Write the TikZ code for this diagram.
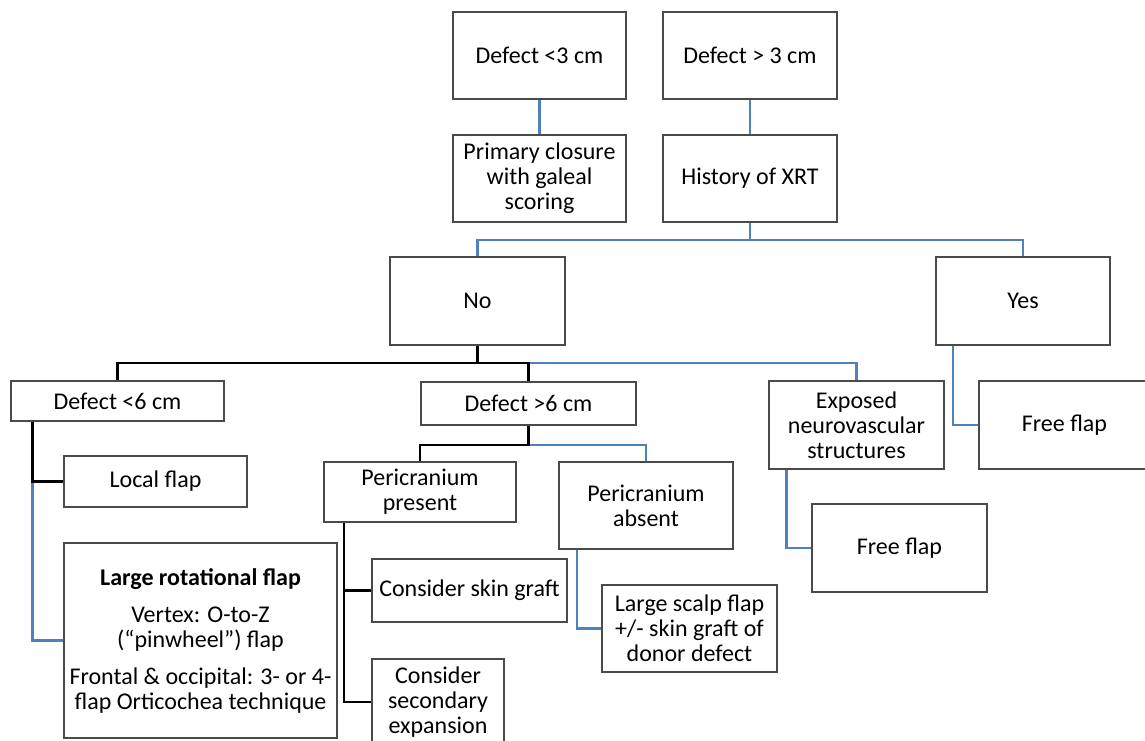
\documentclass[tikz,border=0pt]{standalone}
\usepackage{fontspec}
\setmainfont{Carlito}
\definecolor{lineblue}{HTML}{4F81BD}
\definecolor{boxgray}{HTML}{4A4A4A}
\tikzset{
  box/.style={draw=boxgray,line width=2pt,fill=white,align=center,inner sep=1pt,
    font=\fontsize{24}{25}\selectfont},
  bl/.style={draw=lineblue,line width=2.4pt},
  bk/.style={draw=black,line width=2.6pt}}

\begin{document}
\begin{tikzpicture}[x=1pt,y=-1pt]
    \useasboundingbox (0,0) rectangle (1145,740);

    \node[box,minimum width=173pt,minimum height=87pt] (d3) at (539.5,55.5) {Defect <3 cm};
    \node[box,minimum width=174pt,minimum height=87pt] (d3b) at (750,55.5) {Defect > 3 cm};
    \node[box,minimum width=173pt,minimum height=87pt] (prim) at (539.5,178.5) {Primary closure\\with galeal\\scoring};
    \node[box,minimum width=174pt,minimum height=87pt] (hist) at (750,178.5) {History of XRT};
    \node[box,minimum width=175pt,minimum height=88pt] (no) at (477.5,301) {No};
    \node[box,minimum width=174pt,minimum height=88pt] (yes) at (1023,301) {Yes};
    \node[box,minimum width=213pt,minimum height=40pt] (d6a) at (117.5,401) {Defect <6 cm};
    \node[box,minimum width=215pt,minimum height=43pt] (d6b) at (528.5,403.5) {Defect >6 cm};
    \node[box,minimum width=175pt,minimum height=88pt] (expo) at (856.5,425) {Exposed\\neurovascular\\structures};
    \node[box,minimum width=171pt,minimum height=88pt] (free1) at (1064.5,425) {Free flap};
    \node[box,minimum width=183pt,minimum height=51pt] (local) at (155.5,481.5) {Local flap};
    \node[box,minimum width=192pt,minimum height=60pt] (peri1) at (420,492) {Pericranium\\present};
    \node[box,minimum width=174pt,minimum height=87pt] (peri2) at (646,505.5) {Pericranium\\absent};
    \node[box,minimum width=175pt,minimum height=88pt] (free2) at (899.5,548) {Free flap};
    \node[box,minimum width=273pt,minimum height=195pt] (large) at (200.5,640.5)
      {\textbf{Large rotational flap}\\[12pt] Vertex: O-to-Z\\(“pinwheel”) flap\\[12pt]
       Frontal \& occipital: 3- or 4-\\flap Orticochea technique};
    \node[box,minimum width=195pt,minimum height=63pt] (skin) at (469.5,590.5) {Consider skin graft};
    \node[box,minimum width=175pt,minimum height=87pt] (scalp) at (689.5,628.5) {Large scalp flap\\+/- skin graft of\\donor defect};
    \node[box,minimum width=132pt,minimum height=86pt] (second) at (438,702) {Consider\\secondary\\expansion};

    \draw[bl] (d3) -- (prim);
    \draw[bl] (d3b) -- (hist);
    \draw[bl] (hist.south) -- ++(0,17) coordinate (h) -| (no.north);
    \draw[bl] (h) -| (yes.north);
    \draw[bk] (no.south) -- ++(0,17) coordinate (n) -| (d6a.north);
    \draw[bl] (d6b.north |- n) -| (expo.north);
    \draw[bk] (n) -| (d6b.north);
    \draw[bl] ([xshift=-70pt]yes.south) |- (free1.west);

    \coordinate (c6) at ([xshift=-85pt]d6a.south);
    \draw[bl] (c6 |- local.west) |- (large.west);
    \draw[bk] (c6) |- (local.west);
    \draw[bl] (d6b.south) ++(0,19) coordinate (p) -| (peri2.north);
    \draw[bk] (d6b.south) -- (p) -| (peri1.north);

    \coordinate (c1) at ([xshift=-76pt]peri1.south);
    \draw[bk] (c1) |- (skin.west);
    \draw[bk] (c1) |- (second.west);
    \draw[bl] ([xshift=-69pt]peri2.south) |- (scalp.west);
    \draw[bl] ([xshift=-70pt]expo.south) |- (free2.west);
\end{tikzpicture}
\end{document}
